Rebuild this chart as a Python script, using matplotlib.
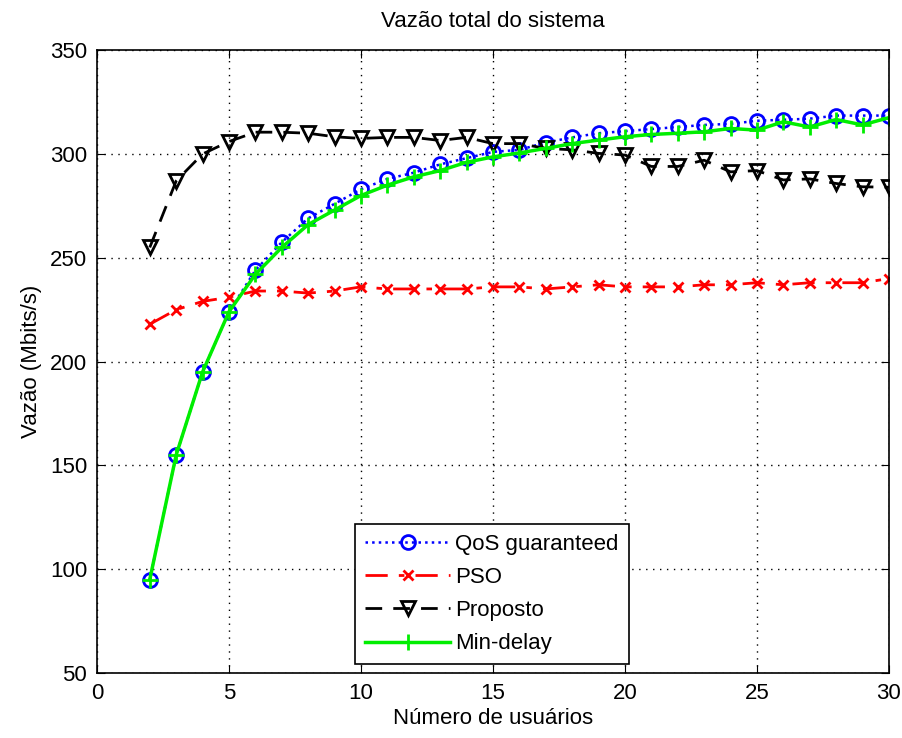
import matplotlib
matplotlib.use("Agg")
import matplotlib.pyplot as plt
import numpy as np

plt.rcParams['font.family'] = ['Liberation Sans', 'DejaVu Sans']

users = list(range(2, 31))
qos = [95, 155, 195, 224, 244, 257.5, 269, 276, 283, 288, 291, 295, 298, 301, 302,
       305.5, 308, 310, 311, 312, 313, 314, 314.5, 316, 316.5, 317, 318.5, 318.5, 318.5]
pso = [218, 225, 229, 231, 234, 234, 233, 234, 236, 235, 235, 235, 235, 236, 236,
       235, 236, 237, 236, 236, 236, 237, 237, 238, 237, 238, 238, 238, 240]
proposto = [255, 287, 300, 306, 310.5, 310.5, 310, 308.3, 307.5, 308, 308, 306.5, 308, 305, 305,
            302.7, 302, 300.3, 299.5, 294, 294, 297, 291.4, 292, 287.5, 288, 285.8, 284.2, 284]
mindelay = [95, 155, 195, 224, 242, 255, 266, 273, 280, 285, 289, 292, 296, 298.6, 300.5,
            302.7, 305, 306.7, 308.3, 309.4, 310, 310.7, 312.3, 311.5, 315.5, 313, 316.6, 314, 317.5]

fs = 16

fig = plt.figure(figsize=(9.02, 7.38), dpi=100)
ax = fig.add_axes([0.1075, 0.088, 0.878, 0.844])

ax.plot(users, qos, ':', color='blue', marker='o', ms=10, mfc='none', mew=2, lw=1.8,
        label='QoS guaranteed')
ax.plot(users, pso, color='red', marker='x', ms=7, mew=2, lw=2,
        dashes=(8, 4, 2, 4), label='PSO')
ax.plot(users, proposto, color='black', marker='v', ms=10.5, mfc='none', mew=2, lw=2,
        dashes=(6, 4), label='Proposto')
ax.plot(users, mindelay, '-', color='#00ee00', marker='+', ms=11, mew=2, lw=2.5,
        label='Min-delay')

ax.set_xlim(0, 30)
ax.set_ylim(50, 350)
ax.set_xticks(np.arange(0, 31, 5))
ax.set_yticks(np.arange(50, 351, 50))
ax.grid(True, color='black', linestyle=(0, (1, 4)), linewidth=1)
ax.tick_params(direction='in', top=True, right=True, labelsize=fs, length=6, pad=7)
ax.minorticks_off()
for s in ax.spines.values():
    s.set_linewidth(1.2)

ax.set_title('Vazão total do sistema', fontsize=fs, pad=17)
ax.set_xlabel('Número de usuários', fontsize=fs, labelpad=3)
ax.set_ylabel('Vazão (Mbits/s)', fontsize=fs, labelpad=6)

leg = ax.legend(loc='lower center', bbox_to_anchor=(0.499, 0.014), fontsize=fs,
                fancybox=False, edgecolor='black', framealpha=1, handlelength=3.8,
                handletextpad=0.25, borderaxespad=0, labelspacing=0.55, borderpad=0.45)
leg.get_frame().set_linewidth(1.2)

fig.savefig('out.png', dpi=100)
